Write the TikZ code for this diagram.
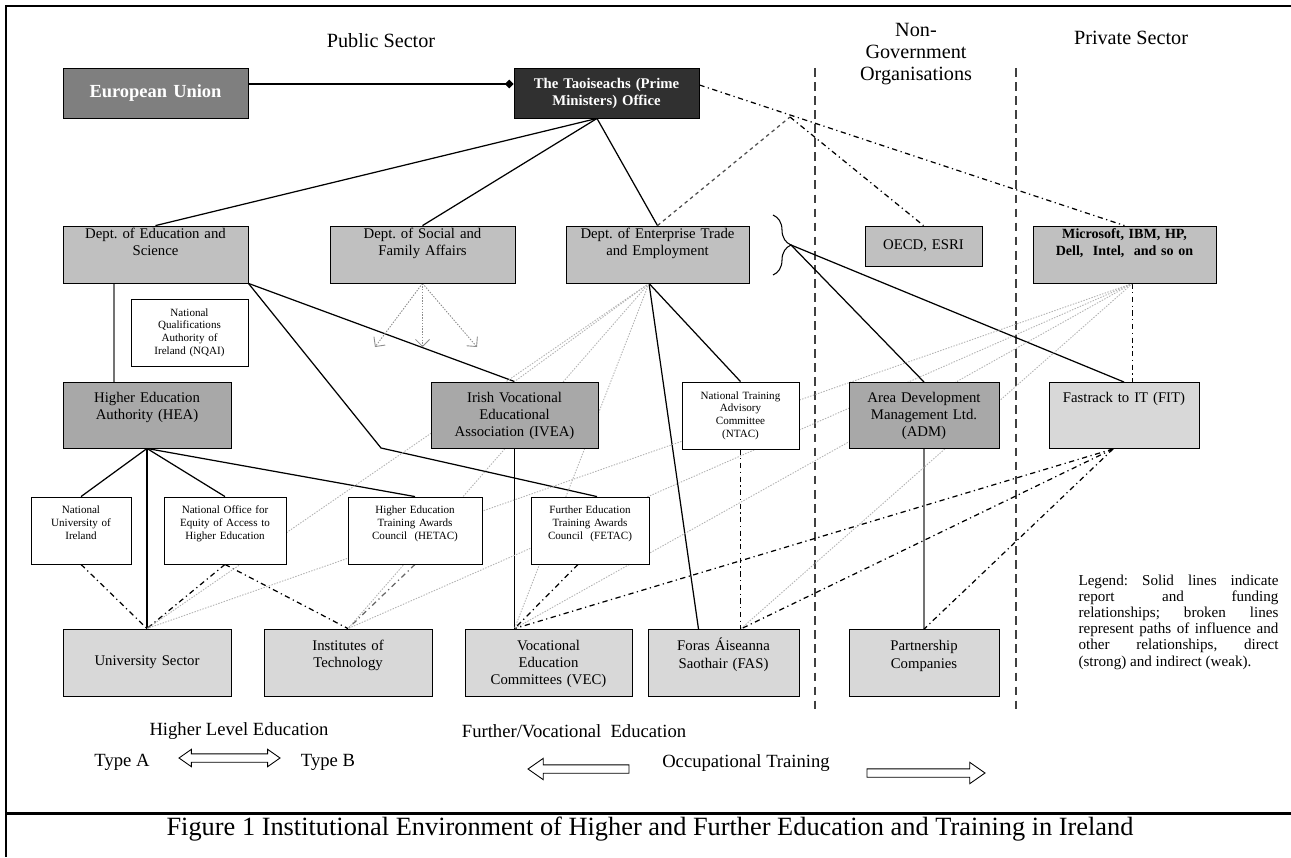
\documentclass[tikz,border=0pt]{standalone}
\usepackage{fontspec}
\setmainfont{Liberation Serif}
\usepackage{xcolor}
\usepackage{tikz}
\usetikzlibrary{arrows.meta, positioning, shapes.arrows, decorations.pathreplacing, backgrounds}

\definecolor{euGrey}{HTML}{7F7F7F}
\definecolor{taoGrey}{HTML}{303030}
\definecolor{deptGrey}{HTML}{C0C0C0}
\definecolor{midGrey}{HTML}{A8A8A8}
\definecolor{lowGrey}{HTML}{D8D8D8}

\begin{document}
\frenchspacing
\begin{tikzpicture}[
  x=0.2mm, y=-0.2mm,
  every node/.style={font=\fontsize{8.4}{9.7}\selectfont},
  box/.style={draw, rectangle, line width=0.5pt, align=center, inner sep=1.5pt},
  wd/.style={minimum width=#1, text width=#1-3pt},
  headbox/.style={box, fill=#1, text=white, minimum height=1cm},
  deptbox/.style={box, fill=deptGrey, text height=5.5pt, text depth=23.9pt},
  midbox/.style={box, fill=midGrey, text height=10.1pt, text depth=24.5pt},
  smallbox/.style={box, fill=white, font=\fontsize{6.3}{7.2}\selectfont, minimum height=1.34cm},
  awardbox/.style={box, fill=white, font=\fontsize{6.3}{7.2}\selectfont, text height=8.1pt, text depth=27pt},
  lowbox/.style={box, fill=lowGrey, text height=10.7pt, text depth=24.4pt},
  heading/.style={font=\fontsize{11.5}{12.5}\selectfont, align=center},
  note/.style={font=\fontsize{10.6}{12}\selectfont},
  hollow/.style={draw, line width=0.5pt, inner sep=0pt, inner ysep=0.75mm, minimum height=#1},
  report/.style={line width=0.7pt},
  fund/.style={line width=0.6pt, black!55},
  infl/.style={line width=0.7pt, dash pattern=on 3pt off 2pt on 0.7pt off 2pt},
  weak/.style={line width=0.5pt, black!30, dash pattern=on 0.8pt off 0.8pt},
  sector/.style={line width=0.6pt, black!75, dash pattern=on 5pt off 3pt}
]
  \useasboundingbox (0,0) rectangle (1291,857);

  % Sector headings
  \node[heading] (pub)  at (381,41)  {Public Sector};
  \node[heading] (ngo)  at (916,54)  {Non-\\Government\\Organisations};
  \node[heading] (priv) at (1131,38) {Private Sector};

  % Government
  \node[headbox=euGrey, wd=3.7cm, font=\fontsize{10.5}{12}\selectfont\bfseries] (eu) at (155.5,93) {European Union};
  \node[headbox=taoGrey, wd=3.7cm, font=\fontsize{8.4}{9.7}\selectfont\bfseries] (tao) at (606.5,93) {The Taoiseachs (Prime\\Ministers) Office};

  % Departments, NGOs and industry
  \node[deptbox, wd=3.7cm]  (ded) at (155.5,254.5) {Dept. of Education and\\Science};
  \node[deptbox, wd=3.7cm]  (dsf) at (422.5,254.5) {Dept. of Social and\\Family Affairs};
  \node[deptbox, wd=3.66cm] (det) at (657.5,254.5) {Dept. of Enterprise Trade\\and Employment};
  \node[box, fill=deptGrey, wd=2.34cm, minimum height=0.8cm] (oecd) at (923.5,246) {OECD, ESRI};
  \node[deptbox, wd=3.66cm, font=\fontsize{8}{9.7}\selectfont\bfseries] (ms) at (1124.5,254.5) {Microsoft, IBM, HP,\\Dell,\ \ Intel,\ \ and so on};

  % Agencies
  \node[smallbox, wd=2.34cm] (nqai) at (189.5,332.5) {National\\Qualifications\\Authority of\\Ireland (NQAI)};
  \node[midbox, wd=3.36cm] (hea)  at (147,415)   {Higher Education\\Authority (HEA)};
  \node[midbox, wd=3.34cm] (ivea) at (514.5,415) {Irish Vocational\\Educational\\Association (IVEA)};
  \node[smallbox, wd=2.34cm] (ntac) at (740.5,415.5) {National Training\\Advisory\\Committee\\(NTAC)};
  \node[midbox, wd=3cm] (adm) at (924,415.5) {Area Development\\Management Ltd.\\(ADM)};
  \node[midbox, fill=lowGrey, wd=3cm] (fit) at (1124,415.5) {Fastrack to IT (FIT)};

  % Awards and access bodies
  \node[awardbox, wd=2cm]    (nui)   at (81,530.5)  {National\\University of\\Ireland};
  \node[awardbox, wd=2.44cm] (noea)  at (225,530.5) {National Office for\\Equity of Access to\\Higher Education};
  \node[awardbox, wd=2.68cm] (hetac) at (415,530.5) {Higher Education\\Training Awards\\Council\ \ (HETAC)};
  \node[awardbox, wd=2.36cm] (fetac) at (590,530.5) {Further Education\\Training Awards\\Council\ \ (FETAC)};

  % Providers
  \node[box, fill=lowGrey, wd=3.36cm, minimum height=1.34cm] (us) at (147,662.5) {University Sector};
  \node[lowbox, wd=3.36cm] (iot) at (348,662.5)   {Institutes of\\Technology};
  \node[lowbox, wd=3.34cm] (vec) at (548.5,662.5) {Vocational\\Education\\Committees (VEC)};
  \node[lowbox, wd=3.02cm] (fas) at (723.5,663)   {Foras Áiseanna\\Saothair (FAS)};
  \node[lowbox, wd=3cm]    (pc)  at (924,663)     {Partnership\\Companies};

  % Education and training levels
  \node[note] (hle) at (239,731) {Higher Level Education};
  \node[note] (ta)  at (122,762) {Type A};
  \node[hollow=2.02cm, double arrow, double arrow head extend=0.9mm, double arrow tip angle=70] (ab) at (229.5,758) {};
  \node[note] (tb)  at (328,762) {Type B};
  \node[note] (fve) at (574,731) {Further/Vocational\ \ Education};
  \node[hollow=2.02cm, single arrow, single arrow head extend=1.3mm, single arrow tip angle=70, shape border rotate=180] (lar) at (581.5,769) {};
  \node[note] (occ) at (746,763) {Occupational Training};
  \node[hollow=2.36cm, single arrow, single arrow head extend=1.3mm, single arrow tip angle=70] (rar) at (923,773) {};

  % Legend and caption
  \node[font=\fontsize{8.6}{9.2}\selectfont, text width=4cm, align=justify, inner sep=0pt] (leg) at (1178.5,622)
    {Legend: Solid lines indicate\linebreak report and funding\linebreak relationships; broken lines\linebreak represent paths of influence and\linebreak other relationships, direct\linebreak (strong) and indirect (weak).};
  \node[font=\fontsize{15}{17}\selectfont] (cap) at (650,829) {Figure 1 Institutional Environment of Higher and Further Education and Training in Ireland};

  \begin{scope}[on background layer]
  \fill[white] (0,0) rectangle (1291,857);

  % Sector boundaries
  \draw[sector] (815,68) -- (815,712);
  \draw[sector] (1016,68) -- (1016,712);

  % Helper points
  \coordinate (peak) at (790,117);
  \coordinate (brtip) at (791,245);
  \coordinate (bend) at (381,448);
  \coordinate (sfaL) at (375,347);
  \coordinate (sfaR) at (477,347);
  \coordinate (taoB) at ([xshift=-1.9mm]tao.south);
  \coordinate (detB) at ([xshift=-1.7mm]det.south);
  \coordinate (msB) at ([xshift=1.6mm]ms.south);
  \coordinate (fitB) at ([xshift=-2.2mm]fit.south);
  \coordinate (vecT) at (ivea.south |- vec.north);
  \coordinate (fasT) at (ntac.south |- fas.north);

  % Brace round the departments
  \draw[line width=0.6pt, decorate, decoration={brace, amplitude=3.6mm}] (773,215) -- (773,275);

  % Report and funding lines
  \draw[report, -{Diamond[length=5pt, width=5pt]}] ([yshift=1.8mm]eu.east) -- ([yshift=1.8mm]tao.west);
  \draw[report] (taoB) -- (ded.north);
  \draw[report] (taoB) -- (dsf.north);
  \draw[report] (taoB) -- (det.north);
  \draw[fund] ([xshift=-6.6mm]hea.north) -- ([xshift=-6.6mm]hea.north |- ded.south);
  \draw[report] (ded.south east) -- (ivea.north);
  \draw[report] (ded.south east) -- (bend) -- ([xshift=1.4mm]fetac.north);
  \draw[report] (hea.south) -- (nui.north);
  \draw[report] (hea.south) -- (noea.north);
  \draw[report] (hea.south) -- (hetac.north);
  \draw[report] (hea.south) -- (us.north);
  \draw[report] (ivea.south) -- (vecT);
  \draw[report] (detB) -- (ntac.north);
  \draw[report] (detB) -- ([xshift=-5mm]fas.north);
  \draw[report] (brtip) -- (adm.north);
  \draw[report] (brtip) -- (fit.north);
  \draw[fund] (adm.south) -- (pc.north);

  % Direct influence
  \draw[infl] ([yshift=1.6mm]tao.east) -- (ms.north);
  \draw[infl, black!70, dash pattern=on 2pt off 2pt] (det.north) -- (peak);
  \draw[infl] (peak) -- (oecd.north);
  \draw[infl] (msB) -- (msB |- fit.north);
  \draw[infl] (ntac.south) -- (fasT);
  \draw[infl] (nui.south) -- (us.north);
  \draw[infl] (noea.south) -- (us.north);
  \draw[infl] (noea.south) -- (iot.north);
  \draw[infl, black!60] (hetac.south) -- (iot.north);
  \draw[infl] ([xshift=-2.4mm]fetac.south) -- (vecT);
  \draw[infl] (fitB) -- (vecT);
  \draw[infl] (fitB) -- (fasT);
  \draw[infl] (fitB) -- (pc.north);

  % Indirect influence
  \draw[weak, black!45, -{Straight Barb[length=4pt, width=8pt]}] (dsf.south) -- (sfaL);
  \draw[weak, black!45, -{Straight Barb[length=4pt, width=8pt]}] (dsf.south) -- (dsf.south |- sfaL);
  \draw[weak, black!45, -{Straight Barb[length=4pt, width=8pt]}] (dsf.south) -- (sfaR);
  \draw[weak] (detB) -- (ivea.north);
  \draw[weak] (detB) -- (us.north);
  \draw[weak] (detB) -- (iot.north);
  \draw[weak] (detB) -- (vecT);
  \draw[weak] (msB) -- (us.north);
  \draw[weak] (msB) -- (iot.north);
  \draw[weak] (msB) -- (vecT);
  \draw[weak] (msB) -- (fasT);
  \end{scope}

  % Frame
  \draw[line width=1.1pt] (1291,6) -- (6,6) -- (6,857);
  \draw[line width=1.7pt] (6,813) -- (1291,813);
\end{tikzpicture}
\end{document}
